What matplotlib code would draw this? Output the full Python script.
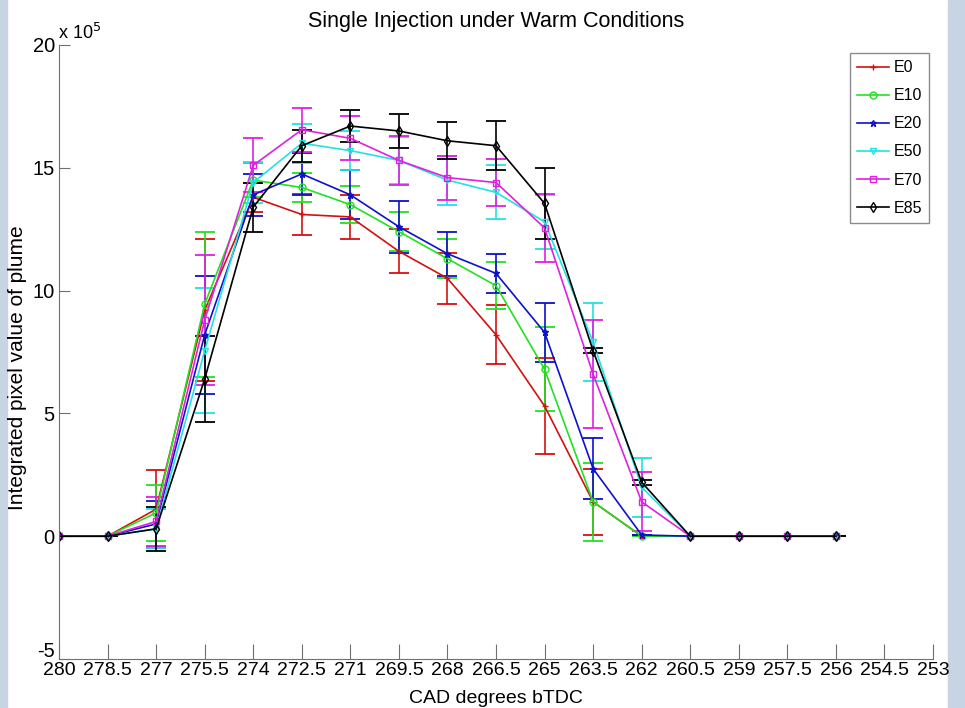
import numpy as np
import matplotlib.pyplot as plt
import matplotlib.transforms as mtransforms
from matplotlib.lines import Line2D

plt.rcParams['font.family'] = ['Liberation Sans', 'DejaVu Sans']

# crank angle positions (deg bTDC)
cad = [280, 278.5, 277, 275.5, 274, 272.5, 271, 269.5, 268, 266.5,
       265, 263.5, 262, 260.5, 259, 257.5, 256]
xtick_vals = [280, 278.5, 277, 275.5, 274, 272.5, 271, 269.5, 268, 266.5,
              265, 263.5, 262, 260.5, 259, 257.5, 256, 254.5, 253]

# integrated pixel value, units of 1e5
e0 = [0, 0, 1.1, 9.2, 13.8, 13.1, 13.0, 11.6, 10.5, 8.2, 5.3, 1.4, 0, 0, 0, 0, 0]
e10 = [0, 0, 0.95, 9.45, 14.5, 14.2, 13.5, 12.4, 11.3, 10.2, 6.8, 1.4, 0, 0, 0, 0, 0]
e20 = [0, 0, 0.5, 8.2, 13.9, 14.75, 13.9, 12.6, 11.5, 10.7, 8.3, 2.75, 0.05, 0, 0, 0, 0]
e50 = [0, 0, 0.3, 7.55, 14.4, 16.0, 15.7, 15.3, 14.5, 14.0, 12.8, 7.9, 2.0, 0, 0, 0, 0]
e70 = [0, 0, 0.6, 8.8, 15.1, 16.55, 16.2, 15.3, 14.6, 14.4, 12.55, 6.6, 1.4, 0, 0, 0, 0]
e85 = [0, 0, 0.3, 6.4, 13.4, 15.9, 16.7, 16.5, 16.1, 15.9, 13.55, 7.55, 2.2, 0, 0, 0, 0]

e0_err = [0, 0, 1.6, 2.9, 0.6, 0.85, 0.9, 0.9, 1.05, 1.2, 1.95, 1.35, 0, 0, 0, 0, 0]
e10_err = [0, 0, 1.15, 2.95, 0.7, 0.6, 0.75, 0.8, 0.8, 0.95, 1.7, 1.6, 0, 0, 0, 0, 0]
e20_err = [0, 0, 0.95, 2.4, 0.85, 0.85, 1.0, 1.05, 0.9, 0.8, 1.2, 1.25, 0, 0, 0, 0, 0]
e50_err = [0, 0, 0.8, 2.55, 0.85, 0.8, 0.8, 0.95, 1.0, 1.1, 1.1, 1.6, 1.2, 0, 0, 0, 0]
e70_err = [0, 0, 1.0, 2.65, 1.1, 0.9, 0.9, 1.0, 0.9, 0.95, 1.4, 2.2, 1.2, 0, 0, 0, 0]
e85_err = [0, 0, 0.9, 1.75, 1.0, 0.65, 0.65, 0.7, 0.75, 1.0, 1.45, 0.1, 0.1, 0, 0, 0, 0]

labels = ['E0', 'E10', 'E20', 'E50', 'E70', 'E85']
series = [e0, e10, e20, e50, e70, e85]
errors = [e0_err, e10_err, e20_err, e50_err, e70_err, e85_err]
colors = ['#d41010', '#22e022', '#1010cc', '#22e2e2', '#e020e0', '#000000']
markers = ['+', 'o', '*', 'v', 's', 'd']

fig = plt.figure(figsize=(9.65, 7.08), dpi=100)
fig.patch.set_facecolor('white')
# pale side strips
fig.add_artist(plt.Rectangle((0, 0), 7 / 965, 1, transform=fig.transFigure,
                             color='#c6d4e3', zorder=0))
fig.add_artist(plt.Rectangle((948 / 965, 0), 17 / 965, 1, transform=fig.transFigure,
                             color='#c6d4e3', zorder=0))

ax = fig.add_axes([59 / 965, 49 / 708, 874 / 965, 614 / 708])

handles = []
for y, err, c, m, lab in zip(series, errors, colors, markers, labels):
    ax.errorbar(cad, y, yerr=err, color=c, marker=m, mfc='none', mec=c,
                ms=5, lw=1.2, elinewidth=1.2, capsize=7, capthick=1.3)
    handles.append(Line2D([], [], color=c, marker=m, mfc='none', mec=c,
                          ms=5, lw=1.2, label=lab))

ax.set_xlim(280, 253)
ax.set_ylim(-5, 20)
ax.set_xticks(xtick_vals)
ax.set_xticklabels(['%g' % v for v in xtick_vals], fontsize=14)
ax.set_yticks([-5, 0, 5, 10, 15, 20])
ax.set_yticklabels(['-5', '0', '5', '10', '15', '20'], fontsize=14.5)

for s in ['top', 'right']:
    ax.spines[s].set_visible(False)
for s in ['left', 'bottom']:
    ax.spines[s].set_color('#707070')
ax.tick_params(axis='x', direction='in', length=11, color='#707070', pad=2)
ax.tick_params(axis='y', direction='in', length=8, color='#707070', pad=3)

# lift the bottom y label so it clears the first x label
lowest = ax.get_yticklabels()[0]
lowest.set_transform(lowest.get_transform() +
                     mtransforms.ScaledTranslation(0, 6.5 / 72, fig.dpi_scale_trans))

ax.text(-0.001, 1.004, r'x 10$^{5}$', transform=ax.transAxes, fontsize=13,
        ha='left', va='bottom')
ax.set_title('Single Injection under Warm Conditions', fontsize=15.5, pad=13)
ax.set_xlabel('CAD degrees bTDC', fontsize=14, labelpad=8)
ax.set_ylabel('Integrated pixel value of plume', fontsize=15)
ax.yaxis.set_label_coords(-0.0365, 0.475)

leg = ax.legend(handles=handles, loc='upper right', bbox_to_anchor=(0.9955, 0.987),
                fontsize=11.5, frameon=True, fancybox=False, edgecolor='#707070',
                handlelength=2.0, handletextpad=0.25, labelspacing=0.82,
                borderpad=0.45, borderaxespad=0.0)
leg.get_frame().set_linewidth(1.0)

fig.savefig('out.png', dpi=100)
